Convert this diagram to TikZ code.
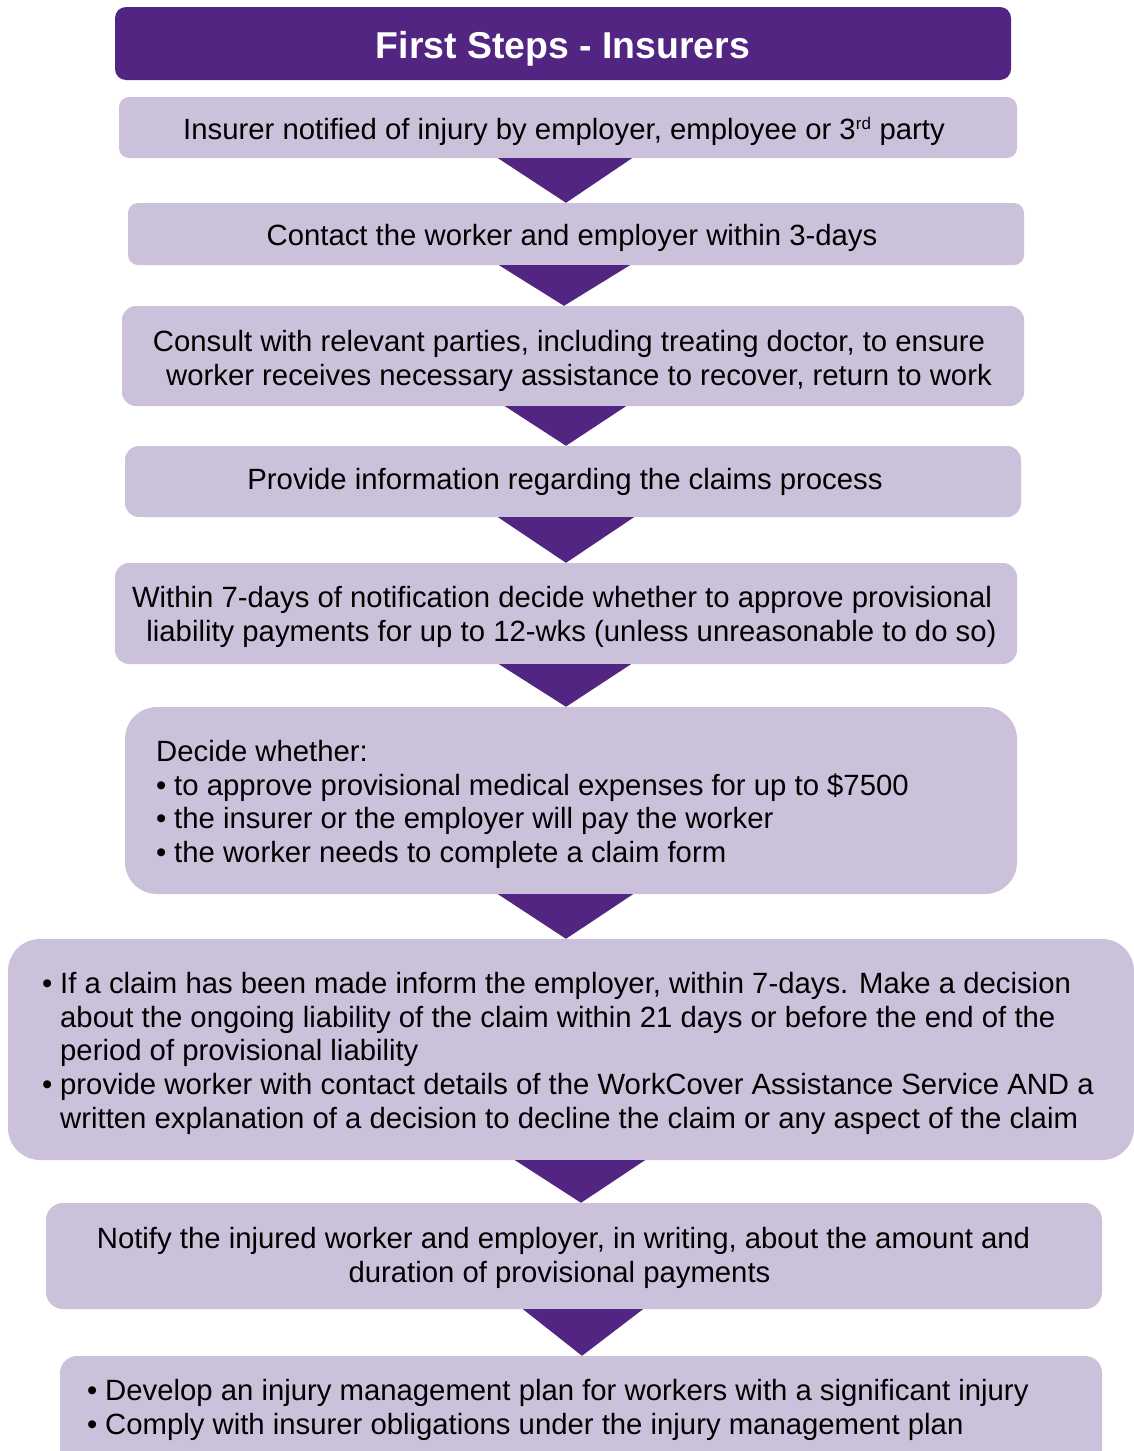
\documentclass[tikz,border=0pt]{standalone}
\usepackage{fontspec}
\setmainfont{Liberation Sans}
\definecolor{hdrc}{HTML}{522583}
\definecolor{boxc}{HTML}{CBC1DB}
\newcommand{\bodyfont}{\fontsize{29.3}{33.8}\selectfont}
\newcommand{\bul}{\makebox[18pt][l]{\textbullet}}
\begin{document}
\begin{tikzpicture}[x=1pt,y=-1pt,
  box/.style={fill=boxc, draw=none, inner sep=0pt},
  hdrbox/.style={fill=hdrc, draw=none, inner sep=0pt, rounded corners=11pt},
  sbox/.style={box, rounded corners=10pt},
  mbox/.style={box, rounded corners=14pt},
  lbox/.style={box, rounded corners=32pt},
  pbox/.style={box, rounded corners=17pt},
  lbl/.style={inner sep=0pt, font=\bodyfont, text=black},
  cl/.style={lbl, anchor=north, align=center},
  cb/.style={lbl, anchor=base},
  ll/.style={lbl, anchor=north west, align=left},
  tri/.style={fill=hdrc, draw=none}]
\useasboundingbox (0,0) rectangle (1133,1451);

% boxes
\node[hdrbox, minimum width=896pt, minimum height=73pt] (hdr) at (563,43.5) {};
\node[sbox, minimum width=898pt, minimum height=61pt] (b1) at (568,127.5) {};
\node[sbox, minimum width=896pt, minimum height=62pt] (b2) at (576,234) {};
\node[mbox, minimum width=902pt, minimum height=100pt] (b3) at (573,356) {};
\node[mbox, minimum width=896pt, minimum height=71pt] (b4) at (573,481.5) {};
\node[mbox, minimum width=902pt, minimum height=101pt] (b5) at (566,613.5) {};
\node[lbox, minimum width=892pt, minimum height=187pt] (b6) at (571,800.5) {};
\node[lbox, minimum width=1126pt, minimum height=221pt] (b7) at (571,1049.5) {};
\node[pbox, minimum width=1056pt, minimum height=106pt] (b8) at (574,1256) {};
\node[pbox, minimum width=1042pt, minimum height=130pt] (b9) at (581,1421) {};

% arrows
\fill[tri] (b1.south -| 498,0) -- (b1.south -| 632,0) -- (b2.north -| 566,0) -- cycle;
\fill[tri] (b2.south -| 499,0) -- (b2.south -| 630,0) -- (b3.north -| 564,0) -- cycle;
\fill[tri] (b3.south -| 505,0) -- (b3.south -| 626,0) -- (b4.north -| 566,0) -- cycle;
\fill[tri] (b4.south -| 498,0) -- (b4.south -| 634,0) -- (b5.north -| 566,0) -- cycle;
\fill[tri] (b5.south -| 499,0) -- (b5.south -| 631,0) -- (b6.north -| 566,0) -- cycle;
\fill[tri] (b6.south -| 498,0) -- (b6.south -| 633,0) -- (b7.north -| 566,0) -- cycle;
\fill[tri] (b7.south -| 515,0) -- (b7.south -| 645,0) -- (b8.north -| 581,0) -- cycle;
\fill[tri] (b8.south -| 523,0) -- (b8.south -| 643,0) -- (b9.north -| 582,0) -- cycle;

% texts
\node[inner sep=0pt, anchor=base, text=white, font=\fontsize{37.4}{44}\selectfont\bfseries] (t0) at (563,58) {First Steps - Insurers};
\node[cb] (t1) at (564,139) {Insurer notified of injury by employer, employee or 3\textsuperscript{\fontsize{17}{17}\selectfont rd} party};
\node[cb] (t2) at (572,245.5) {Contact the worker and employer within 3-days};
\node[cl] (t3) at (569,351.5-23.66) {\strut Consult with relevant parties, including treating doctor, to ensure\\\hspace*{20pt}\strut worker receives necessary assistance to recover, return to work};
\node[cb] (t4) at (565,489.5) {Provide information regarding the claims process};
\node[cl] (t5) at (562,607.5-23.66) {\strut Within 7-days of notification decide whether to approve provisional\\\hspace*{19pt}\strut liability payments for up to 12-wks (unless unreasonable to do so)};
\node[ll] (t6) at (156,761-23.66) {\strut Decide whether:\\\strut\bul to approve provisional medical expenses for up to \$7500\\\strut\bul the insurer or the employer will pay the worker\\\strut\bul the worker needs to complete a claim form};
\node[ll] (t7) at (42,993-23.66) {\strut\bul If a claim has been made inform the employer, within 7-days. Make a decision\\\strut\hspace*{18pt}about the ongoing liability of the claim within 21 days or before the end of the\\\strut\hspace*{18pt}period of provisional liability\\\strut\bul provide worker with contact details of the WorkCover Assistance Service AND a\\\strut\hspace*{18pt}written explanation of a decision to decline the claim or any aspect of the claim};
\node[cl] (t8) at (563.5,1248.5-23.66) {\strut Notify the injured worker and employer, in writing, about the amount and\\\strut duration of provisional payments\hspace*{8pt}};
\node[ll] (t9) at (87,1400.5-23.66) {\strut\bul Develop an injury management plan for workers with a significant injury\\\strut\bul Comply with insurer obligations under the injury management plan};
\end{tikzpicture}
\end{document}
